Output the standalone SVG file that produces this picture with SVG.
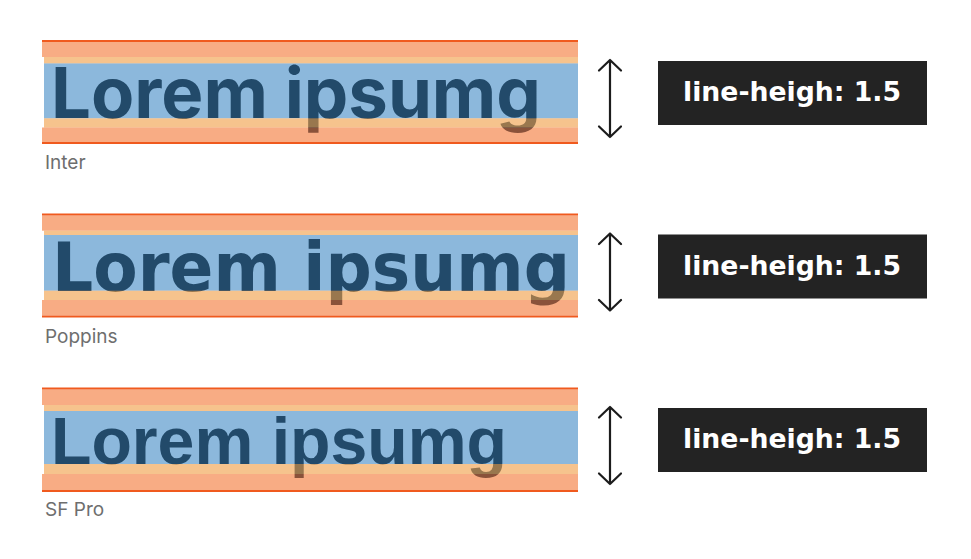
<svg xmlns="http://www.w3.org/2000/svg" width="971" height="559" viewBox="0 0 971 559">
  <defs>
    <style>
      .line { fill: #f05a1e; }
      .salmon { fill: #f15a0a; fill-opacity: 0.5; }
      .peach { fill: #f0983a; fill-opacity: 0.58; }
      .blue { fill: #8cb8dc; }
      .sample { fill: #224a6a; font-weight: 700; }
      .label { fill: #6e6e6e; font-family: Inter, "Liberation Sans", sans-serif; font-size: 19px; }
      .box { fill: #232323; }
      .boxtext { fill: #ffffff; font-family: "DejaVu Sans", "Liberation Sans", sans-serif; font-weight: 700; font-size: 26.5px; }
      .arrow { fill: none; stroke: #1c1c1c; stroke-width: 2.2; stroke-linecap: round; stroke-linejoin: round; }
    </style>
    <g id="arrow">
      <path class="arrow" d="M610,60 V137 M599,70.5 L610,60 L621,70.5 M599,126.5 L610,137 L621,126.5"/>
    </g>
  </defs>
  <rect width="971" height="559" fill="#ffffff"/>

  <g id="sample-inter">
    <rect class="blue" x="44" y="63.3" width="534" height="55"/>
    <text class="sample" x="51" y="118.3" font-family="Inter, 'Liberation Sans', sans-serif" font-size="70" textLength="490" lengthAdjust="spacingAndGlyphs">Lorem ipsumg</text>
    <rect class="salmon" x="42" y="42" width="536" height="15"/>
    <rect class="peach" x="44" y="57" width="534" height="6.3"/>
    <rect class="peach" x="44" y="118.3" width="534" height="9.2"/>
    <rect class="salmon" x="42" y="127.5" width="536" height="14.5"/>
    <rect class="line" x="42" y="40" width="536" height="2"/>
    <rect class="line" x="42" y="142" width="536" height="2"/>
    <text class="label" x="45" y="169">Inter</text>
  </g>

  <g id="sample-poppins">
    <rect class="blue" x="44" y="235" width="534" height="55.7"/>
    <text class="sample" x="52" y="290.7" font-family="'DejaVu Sans', 'Liberation Sans', sans-serif" font-size="67" textLength="518" lengthAdjust="spacingAndGlyphs">Lorem ipsumg</text>
    <rect class="salmon" x="42" y="215.5" width="536" height="15.2"/>
    <rect class="peach" x="44" y="230.7" width="534" height="4.3"/>
    <rect class="peach" x="44" y="290.7" width="534" height="9.3"/>
    <rect class="salmon" x="42" y="300" width="536" height="15.5"/>
    <rect class="line" x="42" y="213.5" width="536" height="2"/>
    <rect class="line" x="42" y="315.5" width="536" height="2"/>
    <text class="label" x="45" y="342.5">Poppins</text>
  </g>

  <g id="sample-sfpro">
    <rect class="blue" x="44" y="411" width="534" height="53"/>
    <text class="sample" x="51" y="464" font-family="'Liberation Sans', Arial, sans-serif" font-size="67" textLength="456" lengthAdjust="spacingAndGlyphs">Lorem ipsumg</text>
    <rect class="salmon" x="42" y="389.5" width="536" height="15.5"/>
    <rect class="peach" x="44" y="405" width="534" height="6"/>
    <rect class="peach" x="44" y="464" width="534" height="10"/>
    <rect class="salmon" x="42" y="474" width="536" height="16"/>
    <rect class="line" x="42" y="387.5" width="536" height="2"/>
    <rect class="line" x="42" y="490" width="536" height="2"/>
    <text class="label" x="45" y="516">SF Pro</text>
  </g>

  <g id="connectors">
    <use href="#arrow"/>
    <use href="#arrow" y="173.5"/>
    <use href="#arrow" y="347"/>
  </g>

  <g id="tag-1">
    <rect class="box" x="658" y="61" width="269" height="64"/>
    <text class="boxtext" x="683" y="101" textLength="218" lengthAdjust="spacingAndGlyphs">line-heigh: 1.5</text>
  </g>
  <g id="tag-2">
    <rect class="box" x="658" y="234.5" width="269" height="64"/>
    <text class="boxtext" x="683" y="274.5" textLength="218" lengthAdjust="spacingAndGlyphs">line-heigh: 1.5</text>
  </g>
  <g id="tag-3">
    <rect class="box" x="658" y="408" width="269" height="64"/>
    <text class="boxtext" x="683" y="448" textLength="218" lengthAdjust="spacingAndGlyphs">line-heigh: 1.5</text>
  </g>
</svg>
